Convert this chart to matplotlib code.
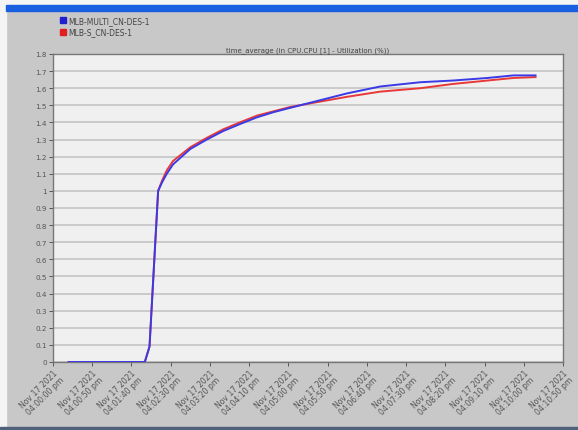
import matplotlib
matplotlib.use("Agg")
import matplotlib.pyplot as plt
from matplotlib.lines import Line2D
from matplotlib.patches import Rectangle

# data (time in seconds after 04:00:00 pm)
t_blue = [20, 117, 123, 134, 139, 145, 153, 164, 175, 196, 217, 238, 260, 281, 302, 332, 375, 417, 468, 510, 554, 587, 615]
v_blue = [0, 0, 0.09, 1.0, 1.05, 1.10, 1.155, 1.20, 1.245, 1.30, 1.35, 1.39, 1.43, 1.46, 1.485, 1.52, 1.57, 1.61, 1.635, 1.645, 1.66, 1.675, 1.675]
t_red = t_blue
v_red = [0, 0, 0.09, 1.0, 1.06, 1.12, 1.175, 1.215, 1.255, 1.31, 1.36, 1.40, 1.44, 1.465, 1.49, 1.515, 1.55, 1.58, 1.60, 1.625, 1.645, 1.66, 1.665]
series_names = ["MLB-MULTI_CN-DES-1", "MLB-S_CN-DES-1"]
x_tick_secs = list(range(0, 651, 50))
x_tick_labels = ["Nov 17 2021\n04:%02d:%02d pm" % (s // 60, s % 60) for s in x_tick_secs]
y_ticks = [round(0.1 * i, 1) for i in range(19)]
y_tick_labels = ["0", "0.1", "0.2", "0.3", "0.4", "0.5", "0.6", "0.7", "0.8", "0.9", "1",
                 "1.1", "1.2", "1.3", "1.4", "1.5", "1.6", "1.7", "1.8"]

W, H = 578, 431
fig = plt.figure(figsize=(W / 100, H / 100), dpi=100)
fig.patch.set_facecolor("#c8c8c8")

# window chrome
fig.patches.append(Rectangle((0, 0), 6 / W, 1, transform=fig.transFigure, color="#f4f4f4", zorder=0))
fig.patches.append(Rectangle((0, 1 - 6 / H), 1, 6 / H, transform=fig.transFigure, color="#f4f4f4", zorder=0))
fig.patches.append(Rectangle((6 / W, 1 - 12 / H), 1, 6 / H, transform=fig.transFigure, color="#1a5fe0", zorder=0))
fig.patches.append(Rectangle((0, 0), 1, 3 / H, transform=fig.transFigure, color="#50607a", zorder=0))

ax = fig.add_axes([53 / W, (H - 363) / H, (563 - 53) / W, (363 - 55) / H])
ax.set_facecolor("#f0f0f0")
ax.plot(t_red, v_red, color="#e83838", lw=1.4, zorder=3)
ax.plot(t_blue, v_blue, color="#3a3ae6", lw=1.4, zorder=4)

ax.set_xlim(0, 650)
ax.set_ylim(0, 1.8)
ax.set_yticks(y_ticks)
ax.set_yticklabels(y_tick_labels)
ax.set_xticks(x_tick_secs)
ax.set_xticklabels(x_tick_labels, rotation=45, ha="right", va="top", rotation_mode="anchor",
                   linespacing=0.95)
ax.grid(axis="y", color="#c4c4c4", lw=1.2)
ax.tick_params(axis="y", labelsize=5.2, colors="#555555", length=3, width=0.7, pad=1.5)
ax.tick_params(axis="x", labelsize=5.6, colors="#555555", length=3, width=0.7, pad=1.5)
for s in ax.spines.values():
    s.set_color("#777777")
    s.set_linewidth(1.0)

ax.set_title("time_average (in CPU.CPU [1] - Utilization (%))", fontsize=5, color="#444444", pad=2)

handles = [Line2D([], [], marker="s", ls="none", color="#2020d0", markersize=4.5),
           Line2D([], [], marker="s", ls="none", color="#e02020", markersize=4.5)]
fig.legend(handles, series_names, loc="upper left", bbox_to_anchor=(56 / W, 1 - 13 / H),
           frameon=False, fontsize=5.5, handlelength=0.8, handletextpad=0.3,
           labelspacing=0.35, borderpad=0, labelcolor="#444444")

fig.savefig("out.png", dpi=100)
